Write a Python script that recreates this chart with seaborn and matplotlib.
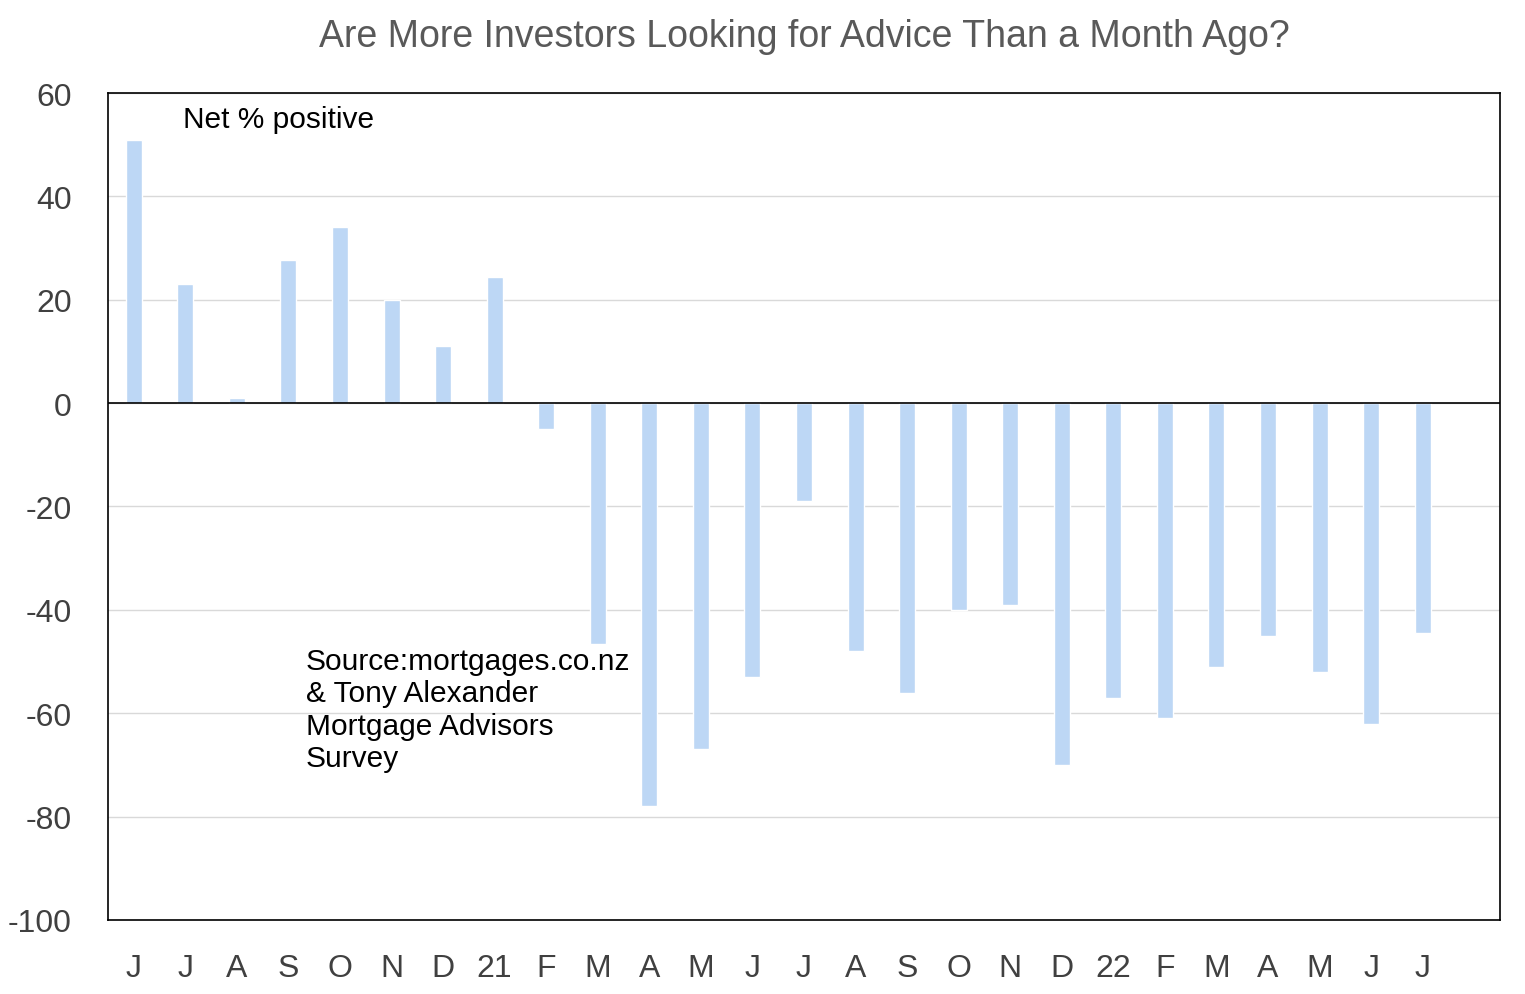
import matplotlib
matplotlib.use("Agg")
import matplotlib.pyplot as plt
import seaborn as sns
import pandas as pd

months = ["J", "J", "A", "S", "O", "N", "D", "21", "F", "M", "A", "M", "J",
          "J", "A", "S", "O", "N", "D", "22", "F", "M", "A", "M", "J", "J"]
net_positive = [51, 23, 1, 27.7, 34, 20, 11, 24.4, -5, -46.6, -78, -67, -53,
                -19, -48, -56, -40, -39, -70, -57, -61, -51, -45, -52, -62, -44.5]

df = pd.DataFrame({"pos": range(len(months)), "value": net_positive})

sns.set_style("white")
plt.rcParams["font.family"] = ["Liberation Sans", "DejaVu Sans"]
plt.rcParams["axes.unicode_minus"] = False

fig = plt.figure(figsize=(15.25, 9.95), dpi=100)
ax = fig.add_axes([0.0708, 0.0744, 0.9128, 0.8311])
sns.barplot(data=df, x="pos", y="value", color="#bdd7f5", width=0.31,
            saturation=1, ax=ax, zorder=3)

ax.set_xlim(-0.5, 26.5)
ax.set_ylim(-100, 60)
ax.set_yticks(range(-100, 61, 20))
ax.set_xticks(range(len(months)))
ax.set_xticklabels(months)
ax.tick_params(axis="both", labelsize=23, colors="#404040", length=0)
ax.tick_params(axis="x", pad=24)
ax.tick_params(axis="y", pad=26)
ax.grid(axis="y", color="#d9d9d9", linewidth=1, zorder=0)
ax.axhline(0, color="black", linewidth=1.2, zorder=4)
for s in ax.spines.values():
    s.set_color("black")
    s.set_linewidth(1.2)
ax.set_xlabel("")
ax.set_ylabel("")

ax.set_title("Are More Investors Looking for Advice Than a Month Ago?",
             fontsize=27, color="#595959", pad=34)
ax.text(0.054, 0.985, "Net % positive", transform=ax.transAxes,
        fontsize=21.5, va="top", color="black")
ax.text(0.142, 0.33,
        "Source:mortgages.co.nz\n& Tony Alexander\nMortgage Advisors\nSurvey",
        transform=ax.transAxes, fontsize=21.5, va="top", color="black",
        linespacing=1.2)

fig.savefig("out.png", dpi=100)
